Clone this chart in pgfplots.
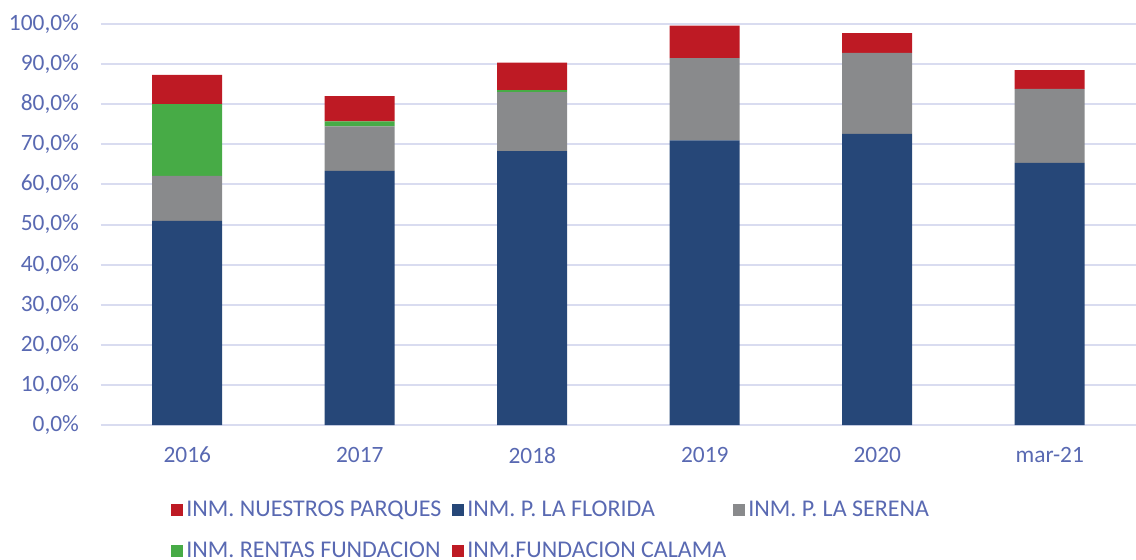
\documentclass[border=0pt]{standalone}
\usepackage{fontspec}
\setmainfont{Carlito}
\usepackage{pgfplots}
\pgfplotsset{compat=1.18}

\definecolor{txt}{RGB}{89,105,178}
\definecolor{gridc}{RGB}{217,220,240}
\definecolor{cblue}{RGB}{38,71,120}
\definecolor{cgray}{RGB}{137,138,140}
\definecolor{cgreen}{RGB}{71,171,70}
\definecolor{cred}{RGB}{190,26,36}

\begin{document}
\begin{tikzpicture}[x=1pt,y=1pt]
\begin{axis}[
  at={(50.5pt,67pt)}, anchor=south west,
  scale only axis, width=517.5pt, height=200.5pt,
  ybar stacked, bar width=35pt,
  xmin=-0.5, xmax=5.5, ymin=0, ymax=100,
  xtick={0,...,5},
  xticklabels={2016,2017,2018,2019,2020,mar-21},
  ytick={0,10,...,100},
  yticklabel={\pgfmathprintnumber[fixed,fixed zerofill,precision=1,use comma]{\tick}\%},
  /pgf/number format/assume math mode=true,
  ymajorgrids,
  grid style={draw=gridc, line width=1pt},
  axis line style={draw=none},
  tick style={draw=none},
  major tick length=0pt,
  ticklabel style={font=\fontsize{11.7}{14}\selectfont, text=txt},
  yticklabel style={xshift=-7.5pt},
  xticklabel style={yshift=-7.5pt},
  legend style={at={(axis description cs:0.0676,-0.18)}, anchor=north west,
    draw=none, fill=none, inner sep=0pt, row sep=8.5pt,
    nodes={inner sep=1.5pt},
    font=\fontsize{12}{14}\selectfont, text=txt},
  legend columns=3,
  legend image code/.code={\fill[#1] (0pt,-3pt) rectangle (6pt,3pt);},
]
\addplot[fill=cred, draw=none] coordinates {(0,0) (1,0) (2,0) (3,0) (4,0) (5,0)};
\addlegendentry{\makebox[131.5pt][l]{INM. NUESTROS PARQUES}}
\addplot[fill=cblue, draw=none] coordinates {(0,50.9) (1,63.4) (2,68.3) (3,71.0) (4,72.6) (5,65.4)};
\addlegendentry{\makebox[131.5pt][l]{INM. P. LA FLORIDA}}
\addplot[fill=cgray, draw=none] coordinates {(0,11.2) (1,11.1) (2,14.7) (3,20.5) (4,20.2) (5,18.4)};
\addlegendentry{\makebox[131.5pt][l]{INM. P. LA SERENA}}
\addplot[fill=cgreen, draw=none] coordinates {(0,17.9) (1,1.2) (2,0.5) (3,0) (4,0) (5,0)};
\addlegendentry{\makebox[131.5pt][l]{INM. RENTAS FUNDACION}}
\addplot[fill=cred, draw=none] coordinates {(0,7.3) (1,6.3) (2,6.9) (3,8.1) (4,4.9) (5,4.7)};
\addlegendentry{\makebox[131.5pt][l]{INM.FUNDACION CALAMA}}
\end{axis}
\pgfresetboundingbox
\path[use as bounding box] (0,0) rectangle (568,279.5);
\end{tikzpicture}
\end{document}
